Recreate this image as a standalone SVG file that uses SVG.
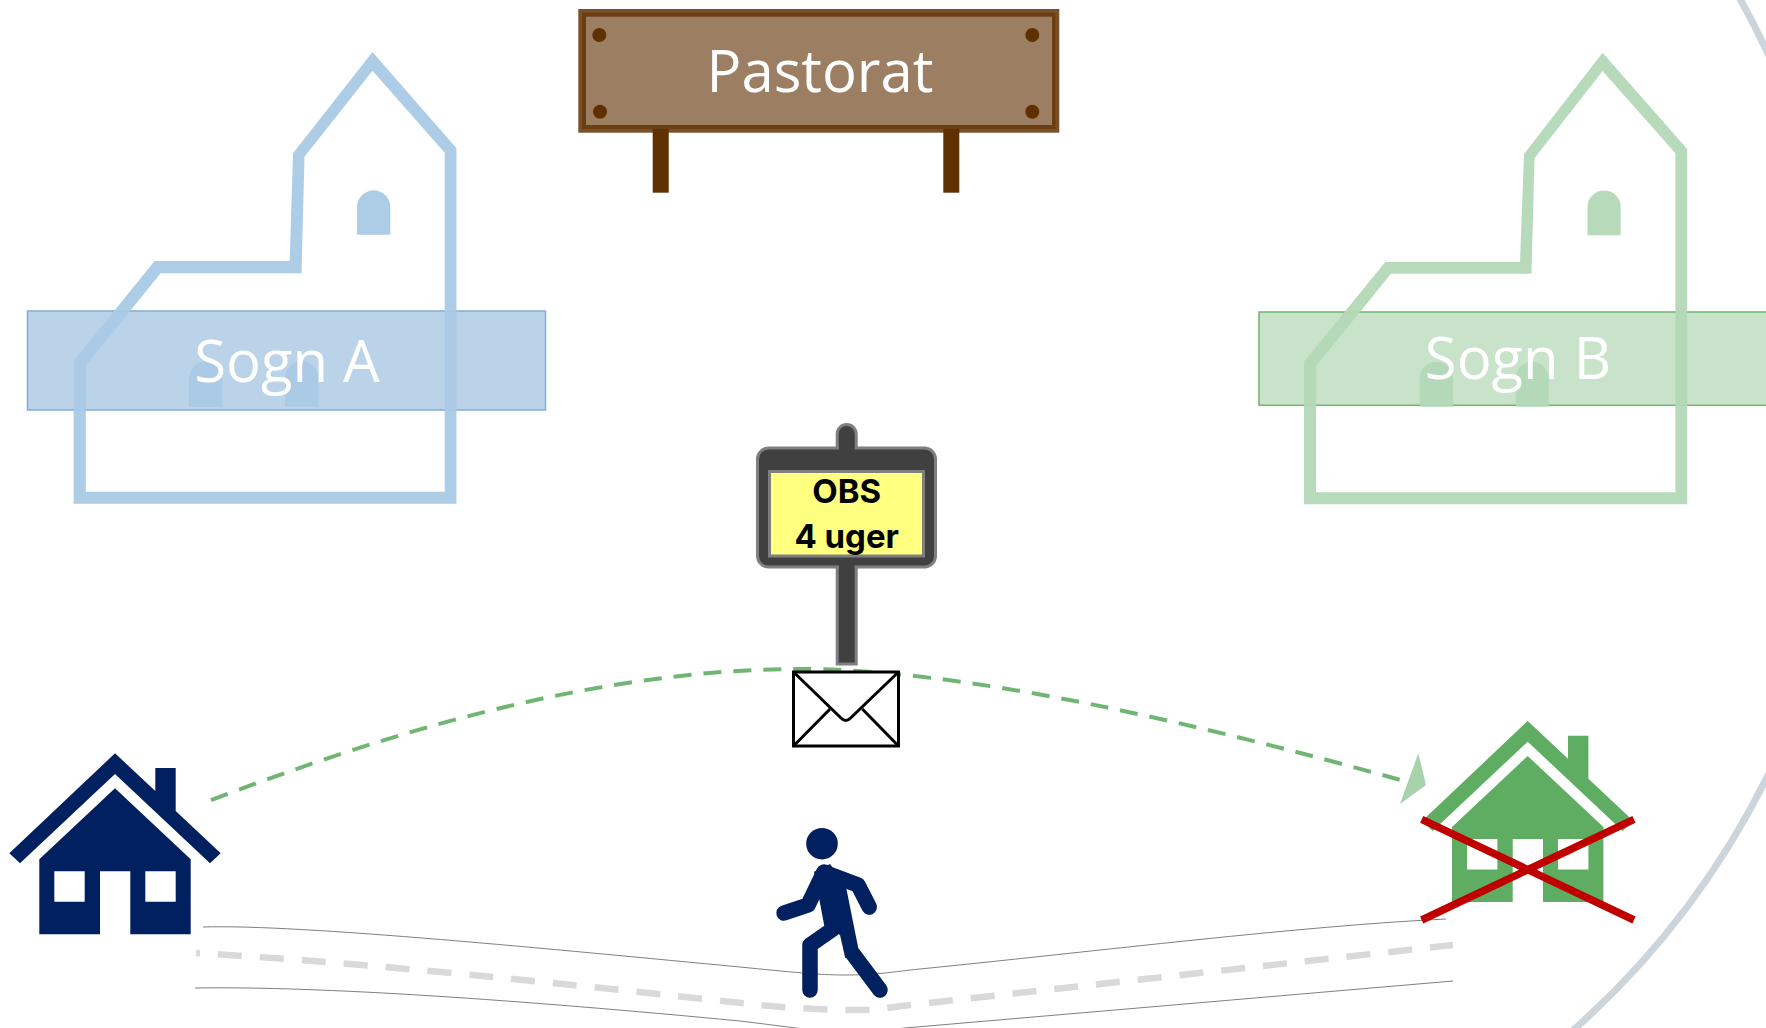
<svg xmlns="http://www.w3.org/2000/svg" xmlns:xlink="http://www.w3.org/1999/xlink" width="1766" height="1028" viewBox="0 0 1766 1028">
<style>
.lbl{font-family:"Open Sans","Liberation Sans",sans-serif;font-weight:400;font-size:58px;fill:#fff;text-anchor:middle}
.obs{font-family:"Inter","Liberation Sans",sans-serif;font-weight:700;font-size:33px;fill:#000;text-anchor:middle}
.road{fill:none;stroke:#808080;stroke-width:1}
.bolt{fill:#5f3000}
</style>
<defs>
<g id="house">
<path d="M115,753.3L155.3,791V768H175.7V811L220.7,853.3L210,863.3L115,774L20,863.3L9.3,853.3Z"/>
<path fill-rule="evenodd" d="M115,788.3L190.7,859.3V934.3H130.3V871.3H100V934.3H39.3V859.3ZM54.3,871.3V901.7H84.7V871.3ZM145.3,871.3V901.7H175.7V871.3Z"/>
</g>
</defs>
<rect width="1766" height="1028" fill="#fff"/>
<path id="arc" d="M1735,-10A838,838 0 0 1 1771,60M1773,765A838,838 0 0 1 1562,1040" fill="none" stroke="#ccd5dc" stroke-width="7"/>
<g id="sogn-a">
<rect x="27.5" y="311" width="518" height="99" fill="#bbd3e9" stroke="#7fafd9" stroke-width="1.5"/>
<g fill="#a9c9e5" fill-opacity="0.95">
<path fill-rule="evenodd" d="M372.5,52L456.5,148.3V503.7H73.6V361L154.6,261H289.7L293,153.3ZM372.5,70.7L304.5,156.7L301.5,273.3H160.6L85.8,365.7V491.7H444.7V152.7Z"/>
<path d="M357,234.7V207a16.65,16.65 0 0 1 33.3,0V234.7Z"/>
<path d="M189,406.7V378a16.65,16.65 0 0 1 33.3,0V406.7Z"/>
<path d="M285.2,406.7V378a16.65,16.65 0 0 1 33.3,0V406.7Z"/>
</g>
<text class="lbl" x="287" y="381.7">Sogn A</text>
</g>
<g id="sogn-b">
<rect x="1259" y="312" width="520" height="93.3" fill="#c9e3ca" stroke="#6db76f" stroke-width="1.5"/>
<g fill="#b3d8b7" fill-opacity="0.95">
<path fill-rule="evenodd" d="M1602.6,52.7L1687.2,149V504.3H1304V361.7L1385.3,262H1520L1524,154ZM1602.6,71L1534.5,158.3L1531.5,273.7H1391L1316.1,366V492.3H1675.4V153.3Z"/>
<path d="M1587.5,235.3V207a16.6,16.6 0 0 1 33.2,0V235.3Z"/>
<path d="M1419.8,406.7V378.3a16.6,16.6 0 0 1 33.2,0V406.7Z"/>
<path d="M1515.7,406.7V378.3a16.6,16.6 0 0 1 33.2,0V406.7Z"/>
</g>
<text class="lbl" x="1518" y="379.3">Sogn B</text>
</g>
<g id="pastorat">
<rect x="578.3" y="9" width="481" height="123.7" fill="#7a5029"/>
<rect x="582" y="12.7" width="473.5" height="116.3" fill="#6a3d12"/>
<rect x="586" y="16.7" width="466" height="108.3" fill="#9c7f63"/>
<rect x="652.7" y="129" width="16" height="63.7" fill="#5f3000"/>
<rect x="943.3" y="129" width="16" height="63.7" fill="#5f3000"/>
<circle class="bolt" cx="599.3" cy="35" r="7"/>
<circle class="bolt" cx="600" cy="111.7" r="7"/>
<circle class="bolt" cx="1032.3" cy="35" r="7"/>
<circle class="bolt" cx="1032.3" cy="111.7" r="7"/>
<text class="lbl" x="820" y="91.7">Pastorat</text>
</g>
<g id="connectors">
<path class="road" d="M203,927C300,924 560,950 740,967C790,972 820,975 843,975C880,975 890,972 920,969C1100,951 1300,926 1446,919"/>
<path class="road" d="M195,988C320,986 520,1000 740,1021C790,1027 820,1032 850,1032C870,1032 885,1030 905,1028L1453,981"/>
<path fill="none" stroke="#d9d9d9" stroke-width="6.5" stroke-dasharray="24 18" stroke-dashoffset="20" d="M196,953C400,965 620,990 760,1005C790,1008 830,1010 857,1010C880,1010 890,1007 910,1005L1453,945"/>
<path fill="none" stroke="#70b573" stroke-width="4" stroke-dasharray="18 12" d="M211,800C340,752 560,672 790,669C960,667 1200,724 1404,781"/>
<polygon points="1418.3,753.3 1426,785 1400,804" fill="#a8d2ab"/>
</g>
<g id="obs-sign">
<path d="M846.7,424.5a9.5,9.5 0 0 1 9.5,9.5V664H837.2V434a9.5,9.5 0 0 1 9.5,-9.5Z" fill="#404040" stroke="#7f7f7f" stroke-width="3"/>
<rect x="757.5" y="448" width="178" height="119" rx="11" fill="#404040" stroke="#7f7f7f" stroke-width="3"/>
<rect x="839" y="446" width="15.5" height="4" fill="#404040"/>
<rect x="839" y="565" width="15.5" height="4" fill="#404040"/>
<rect x="769.5" y="471.5" width="154" height="84.5" fill="#ffff80" stroke="#7f7f7f" stroke-width="3"/>
<text class="obs" x="846.7" y="503.3">OBS</text>
<text class="obs" x="846.7" y="548.3">4 uger</text>
</g>
<g id="envelope" fill="none" stroke="#000" stroke-width="3">
<rect x="793.5" y="672" width="105" height="74" fill="#fff"/>
<path d="M793.5,672L841,718Q845.8,723 850.6,718L898.5,672"/>
<path d="M793.5,746L830,709M898.5,746L862.3,709"/>
</g>
<g id="walker" fill="#002060">
<circle cx="822" cy="843.7" r="15.8"/>
<polygon points="819.3,899.3 824.3,926 840,935 845.3,958.3 859.3,953.3 846,886.7 830,864 814,871.7"/>
<g fill="none" stroke="#002060" stroke-width="15.5" stroke-linecap="round" stroke-linejoin="round">
<path d="M810,990V945L833,929"/>
<path d="M853,954L880,990"/>
<path d="M784,913L808,905L824,872"/>
<path d="M826,873L858,885L869.3,907"/>
</g>
</g>
<g id="house-a" fill="#002060"><use xlink:href="#house" href="#house"/></g>
<g id="house-b" fill="#5fad62">
<use xlink:href="#house" href="#house" transform="translate(1412.7,-32.3)"/>
<path d="M1421.7,819.3L1634,920M1634,819.3L1421.7,920" fill="none" stroke="#c00000" stroke-width="7.5"/>
</g>
</svg>
